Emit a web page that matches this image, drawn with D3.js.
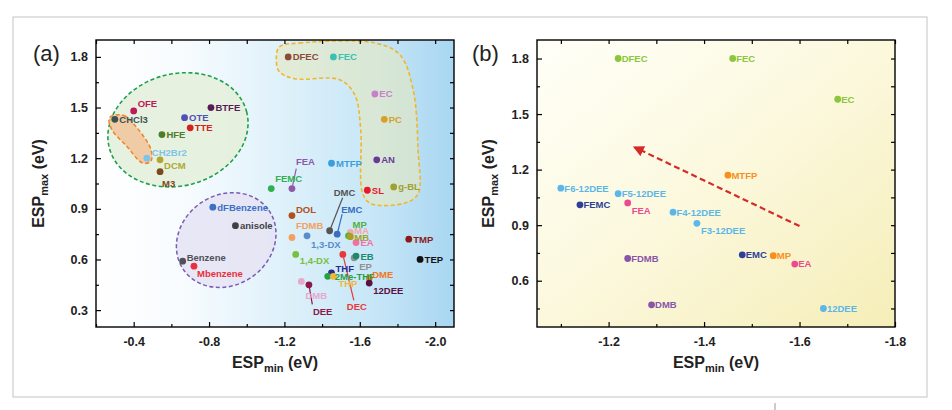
<!DOCTYPE html>
<html><head><meta charset="utf-8">
<script src="https://cdn.jsdelivr.net/npm/d3@7"></script>
<style>
body{margin:0;background:#fff}
svg{display:block}
text{font-family:"Liberation Sans",Arial,sans-serif}
</style>
</head><body>
<svg id="chart" width="952" height="410"></svg>
<script>
// ---------- Panel (a) data ----------
const namesA = ["OFE","CHCl3","OTE","BTFE","TTE","HFE","CH2Br2","DCM","M3",
  "DFEC","FEC","EC","PC","AN","MTFP","FEA","FEMC","SL","g-BL",
  "dFBenzene","anisole","Benzene","Mbenzene",
  "DOL","FDMB","1,3-DX","DMC","EMC","MA","MP","MB","EA","TMP","TEP",
  "1,4-DX","DEC","EP","EB","THF","2Me-THF","THP","DME","12DEE","DMB","DEE"];
const espMinA = [-0.40,-0.30,-0.67,-0.81,-0.70,-0.55,-0.47,-0.54,-0.54,
  -1.22,-1.46,-1.68,-1.73,-1.69,-1.45,-1.24,-1.13,-1.64,-1.78,
  -0.82,-0.94,-0.66,-0.72,
  -1.24,-1.24,-1.32,-1.44,-1.48,-1.55,-1.54,-1.55,-1.58,-1.86,-1.92,
  -1.26,-1.51,-1.57,-1.58,-1.45,-1.43,-1.46,-1.65,-1.65,-1.29,-1.33];
const espMaxA = [1.48,1.43,1.44,1.50,1.38,1.34,1.20,1.19,1.12,
  1.80,1.80,1.58,1.43,1.19,1.17,1.02,1.02,1.01,1.03,
  0.91,0.80,0.59,0.56,
  0.86,0.73,0.74,0.77,0.75,0.76,0.74,0.735,0.70,0.72,0.60,
  0.63,0.63,0.61,0.62,0.52,0.50,0.50,0.49,0.46,0.47,0.45];

// ---------- Panel (b) data ----------
const namesB = ["DFEC","FEC","EC","MTFP","F6-12DEE","F5-12DEE","FEMC","FEA",
  "F4-12DEE","F3-12DEE","FDMB","EMC","MP","EA","DMB","12DEE"];
const espMinB = [-1.22,-1.46,-1.68,-1.45,-1.10,-1.22,-1.14,-1.24,
  -1.335,-1.385,-1.24,-1.48,-1.545,-1.59,-1.29,-1.65];
const espMaxB = [1.80,1.80,1.58,1.17,1.10,1.07,1.01,1.02,
  0.97,0.91,0.72,0.74,0.735,0.69,0.47,0.45];

// ---------- tick labels ----------
const xTicksA = [-0.4,-0.8,-1.2,-1.6,-2.0];
const xMinorA = [-0.2,-0.6,-1.0,-1.4,-1.8];
const yTicksA = [0.3,0.6,0.9,1.2,1.5,1.8];
const yMinorA = [0.45,0.75,1.05,1.35,1.65];
const xTicksB = [-1.2,-1.4,-1.6,-1.8];
const xMinorB = [-1.1,-1.3,-1.5,-1.7];
const yTicksB = [0.6,0.9,1.2,1.5,1.8];
const yMinorB = [0.45,0.75,1.05,1.35,1.65];

// arrow in panel (b), data coords [start, end]
const arrowB = [[-1.60,0.895],[-1.255,1.32]];

// region outlines in panel (a) (data coords)
const orangeBlob = [[-0.272,1.441],[-0.347,1.453],[-0.416,1.382],[-0.491,1.253],
  [-0.491,1.182],[-0.448,1.171],[-0.363,1.271],[-0.283,1.371]];
const yellowBlob = [[-1.173,1.859],[-1.28,1.882],[-1.68,1.882],[-1.813,1.812],
  [-1.883,1.606],[-1.909,1.253],[-1.909,0.988],[-1.84,0.935],[-1.664,0.929],
  [-1.616,0.988],[-1.605,1.371],[-1.573,1.576],[-1.493,1.665],[-1.253,1.671],
  [-1.173,1.712],[-1.157,1.782]];
const greenCenter = [-0.635,1.368];
const purpleCenter = [-0.891,0.715];

// ---------- styles ----------
const colorA = {"OFE":"#c0185c","CHCl3":"#3a5252","OTE":"#5050b8","BTFE":"#5a1a5a","TTE":"#d42020",
  "HFE":"#4e7d2c","CH2Br2":"#7ec4e8","DCM":"#b0a830","M3":"#7a4a1c","DFEC":"#8b4a3c","FEC":"#3cc0b0",
  "EC":"#c880c8","PC":"#d8a028","AN":"#6a3a9a","MTFP":"#3a9ee0","FEA":"#9058a8","FEMC":"#30b050",
  "SL":"#e81830","g-BL":"#a0a030","dFBenzene":"#3a70c8","anisole":"#404048","Benzene":"#505058",
  "Mbenzene":"#e83040","DOL":"#b05020","FDMB":"#f4a060","1,3-DX":"#5a8ccc","DMC":"#555555",
  "EMC":"#3a6ec0","MA":"#f4a8a8","MP":"#50b040","MB":"#a8a020","EA":"#f070a8","TMP":"#8b1a1a",
  "TEP":"#111111","1,4-DX":"#78c040","DEC":"#e83838","EP":"#909090","EB":"#1a8a6a","THF":"#2a2a90",
  "2Me-THF":"#28a048","THP":"#f0b838","DME":"#f07820","12DEE":"#5a1040","DMB":"#e8a8cc","DEE":"#8a1848"};
const colorB = {"DFEC":"#8cc63e","FEC":"#8cc63e","EC":"#8cc63e","MTFP":"#f7901e","MP":"#f7901e",
  "F6-12DEE":"#5bb7e8","F5-12DEE":"#5bb7e8","F4-12DEE":"#5bb7e8","F3-12DEE":"#5bb7e8","12DEE":"#5bb7e8",
  "FEMC":"#2e3f98","EMC":"#2e3f98","FEA":"#ec4a90","EA":"#ec4a90","FDMB":"#8a55a8","DMB":"#8a55a8"};
// label placement (px offsets from the dot), optional leader end (lx,ly)
const labA = {"OFE":[4,-7],"CH2Br2":[5,-6],"DCM":[4,6],"M3":[2,12],
  "FEA":[4,-27,4.3,-20],"FEMC":[4,-10],"Benzene":[4,-4],"Mbenzene":[3,7],
  "DOL":[4,-6],"FDMB":[4,-12],"1,3-DX":[4,9],"DMC":[4,-38,13,-33],"EMC":[4,-25,5,-20],
  "MP":[4,-11],"MA":[4,-1.5],"MB":[4,0.5],"1,4-DX":[4,6],"DEC":[4,52,11,46],"EP":[5,8.5],
  "THF":[4,-4],"2Me-THF":[7,0],"THP":[5,7],"DME":[3,-3],"12DEE":[4,7],"DMB":[4,14],
  "DEE":[4,27,3.4,19.5]};
const labB = {"FEA":[4,8],"F3-12DEE":[4,7]};

const svg = d3.select("#chart");
const defs = svg.append("defs");

// outer frame
svg.append("rect").attr("x",13).attr("y",17).attr("width",914).attr("height",380)
  .attr("fill","none").attr("stroke","#c4c4c4").attr("stroke-width",1);
svg.append("line").attr("x1",775).attr("x2",775).attr("y1",403).attr("y2",410)
  .attr("stroke","#999").attr("stroke-width",1);

// gradients
const gA = defs.append("linearGradient").attr("id","gA").attr("x1",0).attr("y1",0).attr("x2",1).attr("y2",0);
[[0,"#ffffff"],[0.25,"#f7fbfe"],[0.55,"#dcf0fa"],[0.8,"#c4e5f7"],[1,"#a8d6f1"]]
  .forEach(s=>gA.append("stop").attr("offset",s[0]).attr("stop-color",s[1]));
const gB = defs.append("linearGradient").attr("id","gB").attr("x1",0).attr("y1",0).attr("x2",1).attr("y2",1);
[[0,"#fffff8"],[0.45,"#fcf9e0"],[1,"#f5eeb8"]]
  .forEach(s=>gB.append("stop").attr("offset",s[0]).attr("stop-color",s[1]));
const mk = defs.append("marker").attr("id","arr").attr("viewBox","0 0 10 10").attr("refX",8).attr("refY",5)
  .attr("markerWidth",5).attr("markerHeight",5).attr("orient","auto-start-reverse").attr("markerUnits","strokeWidth");
mk.append("path").attr("d","M0,0L10,5L0,10Z").attr("fill","#d42a2a");

const fmt = d => d.toFixed(1);

function drawPanel(x, y, xt, xm, yt, ym, gradId, titleX, letter, letterX) {
  const [x0,x1] = x.range(), [y1,y0] = y.range();
  const g = svg.append("g");
  g.append("rect").attr("x",x0).attr("y",y0).attr("width",x1-x0).attr("height",y1-y0)
    .attr("fill",`url(#${gradId})`);
  const axes = svg.append("g").attr("class","axes");
  const styleAxis = sel => { sel.select(".domain").remove();
    sel.selectAll("line").attr("stroke","#000").attr("stroke-width",1.2);
    sel.selectAll("text").attr("font-size",12.5).attr("font-weight","bold").attr("fill","#222")
      .attr("font-family","'Liberation Sans',Arial,sans-serif"); };
  axes.append("g").attr("transform",`translate(0,${y1})`)
    .call(d3.axisBottom(x).tickValues(xt).tickSize(-5).tickPadding(10).tickFormat(fmt)).call(styleAxis);
  axes.append("g").attr("transform",`translate(0,${y1})`)
    .call(d3.axisBottom(x).tickValues(xm).tickSize(-3).tickFormat("")).call(styleAxis);
  axes.append("g").attr("transform",`translate(0,${y0})`)
    .call(d3.axisTop(x).tickValues(xt.concat(xm)).tickSize(-4).tickFormat("")).call(styleAxis);
  axes.append("g").attr("transform",`translate(${x0},0)`)
    .call(d3.axisLeft(y).tickValues(yt).tickSize(-5).tickPadding(8).tickFormat(fmt)).call(styleAxis);
  axes.append("g").attr("transform",`translate(${x0},0)`)
    .call(d3.axisLeft(y).tickValues(ym).tickSize(-3).tickFormat("")).call(styleAxis);
  axes.append("g").attr("transform",`translate(${x1},0)`)
    .call(d3.axisRight(y).tickValues(yt.concat(ym)).tickSize(-4).tickFormat("")).call(styleAxis);
  axes.append("rect").attr("x",x0).attr("y",y0).attr("width",x1-x0).attr("height",y1-y0)
    .attr("fill","none").attr("stroke","#000").attr("stroke-width",1.4);
  // titles
  const cx = (x0+x1)/2;
  const t = axes.append("text").attr("x",cx).attr("y",368).attr("text-anchor","middle")
    .attr("font-size",16).attr("font-weight","bold").attr("fill","#222");
  t.append("tspan").text("ESP");
  t.append("tspan").attr("font-size",11).attr("dy",4).text("min");
  t.append("tspan").attr("dy",-4).text(" (eV)");
  const ty = axes.append("text").attr("transform",`translate(${titleX},${(y0+y1)/2}) rotate(-90)`)
    .attr("text-anchor","middle").attr("font-size",16).attr("font-weight","bold").attr("fill","#222");
  ty.append("tspan").text("ESP");
  ty.append("tspan").attr("font-size",11).attr("dy",4).text("max");
  ty.append("tspan").attr("dy",-4).text(" (eV)");
  axes.append("text").attr("x",letterX).attr("y",61).attr("font-size",22).attr("fill","#222").text(letter);
  return {g, axes};
}

// ---------- Panel (a) ----------
const xA = d3.scaleLinear().domain([-0.2,-2.1]).range([96,454]);
const yA = d3.scaleLinear().domain([0.2,1.9]).range([327,40]);
const pA = drawPanel(xA,yA,xTicksA,xMinorA,yTicksA,yMinorA,"gA",44,"(a)",33);
const gAm = pA.g;

gAm.append("ellipse").attr("cx",0).attr("cy",0).attr("rx",71).attr("ry",56)
  .attr("transform",`translate(${xA(greenCenter[0])},${yA(greenCenter[1])}) rotate(-15)`)
  .attr("fill","#e4efdc").attr("fill-opacity",0.9).attr("stroke","#1fa04a").attr("stroke-width",1.6)
  .attr("stroke-dasharray","4,2.5");
gAm.append("ellipse").attr("cx",0).attr("cy",0).attr("rx",52).attr("ry",45)
  .attr("transform",`translate(${xA(purpleCenter[0])},${yA(purpleCenter[1])}) rotate(-35)`)
  .attr("fill","#e6e4f4").attr("fill-opacity",0.9).attr("stroke","#7a5cb4").attr("stroke-width",1.5)
  .attr("stroke-dasharray","4,2.5");
const blobLine = d3.line().x(d=>xA(d[0])).y(d=>yA(d[1])).curve(d3.curveCatmullRomClosed.alpha(0.5));
gAm.append("path").attr("d",blobLine(orangeBlob))
  .attr("fill","#f0c49c").attr("fill-opacity",0.85).attr("stroke","#f08426").attr("stroke-width",1.5)
  .attr("stroke-dasharray","4,2.5");
gAm.append("path").attr("d",blobLine(yellowBlob))
  .attr("fill","#e4e8c0").attr("fill-opacity",0.6).attr("stroke","#f2b628").attr("stroke-width",1.6)
  .attr("stroke-dasharray","4,2.5");

const ptsA = namesA.map((n,i)=>({n, x:espMinA[i], y:espMaxA[i]}));
// leader lines
ptsA.forEach(p=>{
  const o = labA[p.n];
  if (o && o.length===4) {
    const cx = xA(p.x), cy = yA(p.y);
    const len = Math.hypot(o[2],o[3]);
    gAm.append("line").attr("x1",cx+o[2]/len*3).attr("y1",cy+o[3]/len*3)
      .attr("x2",cx+o[2]).attr("y2",cy+o[3]).attr("stroke",colorA[p.n]).attr("stroke-width",1.2);
  }
});
gAm.selectAll("circle.pa").data(ptsA).join("circle").attr("class","pa")
  .attr("cx",d=>xA(d.x)).attr("cy",d=>yA(d.y)).attr("r",3.4).attr("fill",d=>colorA[d.n]);
gAm.selectAll("text.la").data(ptsA).join("text").attr("class","la")
  .attr("x",d=>xA(d.x)+(labA[d.n]?labA[d.n][0]:4.5))
  .attr("y",d=>yA(d.y)+(labA[d.n]?labA[d.n][1]:0))
  .attr("dy","0.36em").attr("font-size",9.5).attr("font-weight","bold")
  .attr("fill",d=>colorA[d.n]).text(d=>d.n);

// ---------- Panel (b) ----------
const xB = d3.scaleLinear().domain([-1.05,-1.8]).range([537,895]);
const yB = d3.scaleLinear().domain([0.35,1.9]).range([327,40]);
const pB = drawPanel(xB,yB,xTicksB,xMinorB,yTicksB,yMinorB,"gB",494,"(b)",472);
const gBm = pB.g;

gBm.append("line").attr("x1",xB(arrowB[0][0])).attr("y1",yB(arrowB[0][1]))
  .attr("x2",xB(arrowB[1][0])).attr("y2",yB(arrowB[1][1]))
  .attr("stroke","#d42a2a").attr("stroke-width",2.2).attr("stroke-dasharray","6,3.5")
  .attr("marker-end","url(#arr)");

const ptsB = namesB.map((n,i)=>({n, x:espMinB[i], y:espMaxB[i]}));
gBm.selectAll("circle.pb").data(ptsB).join("circle").attr("class","pb")
  .attr("cx",d=>xB(d.x)).attr("cy",d=>yB(d.y)).attr("r",3.4).attr("fill",d=>colorB[d.n]);
gBm.selectAll("text.lb").data(ptsB).join("text").attr("class","lb")
  .attr("x",d=>xB(d.x)+(labB[d.n]?labB[d.n][0]:3.5))
  .attr("y",d=>yB(d.y)+(labB[d.n]?labB[d.n][1]:0))
  .attr("dy","0.36em").attr("font-size",9.5).attr("font-weight","bold")
  .attr("fill",d=>colorB[d.n]).text(d=>d.n);
</script>
</body></html>
